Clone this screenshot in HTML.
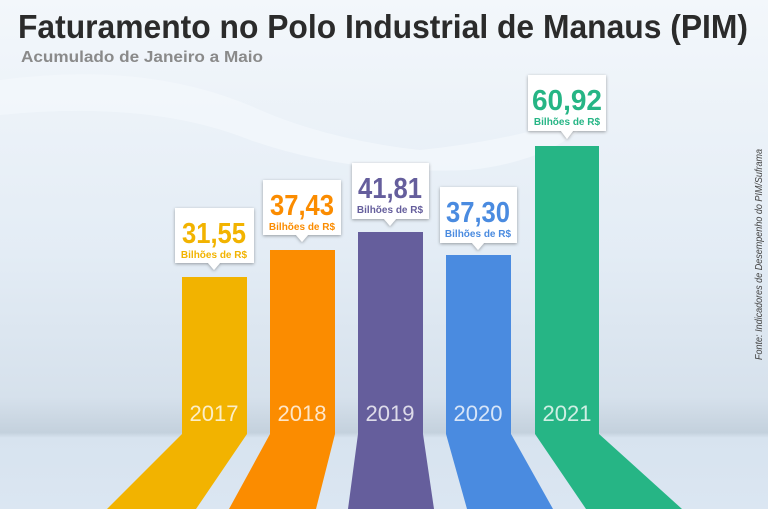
<!DOCTYPE html>
<html><head><meta charset="utf-8"><style>
html,body{margin:0;padding:0}
body{width:768px;height:509px;overflow:hidden}
</style></head><body>
<svg width="768" height="509" viewBox="0 0 768 509" xmlns="http://www.w3.org/2000/svg" font-family="Liberation Sans, sans-serif">
<defs>
<linearGradient id="bg" x1="0" y1="0" x2="0" y2="1">
<stop offset="0" stop-color="#f3f7fb"/>
<stop offset="0.5" stop-color="#e3ecf5"/>
<stop offset="0.78" stop-color="#d6e1ec"/>
<stop offset="0.85" stop-color="#c4d1dd"/>
<stop offset="0.86" stop-color="#d7e3ef"/>
<stop offset="1" stop-color="#dbe6f2"/>
</linearGradient>
<filter id="sh" x="-20%" y="-20%" width="140%" height="140%"><feDropShadow dx="0" dy="1" stdDeviation="1.5" flood-color="#000" flood-opacity="0.35"/></filter>
</defs>
<rect width="768" height="509" fill="url(#bg)"/>
<path d="M0 80 Q150 60 260 110 Q330 140 420 150 Q520 140 600 110 Q560 160 470 170 Q350 175 250 140 Q150 100 0 115Z" fill="#f4f8fc" opacity="0.7"/>
<text x="18" y="38" font-size="33" font-weight="bold" fill="#2b2b2b" textLength="730" lengthAdjust="spacingAndGlyphs">Faturamento no Polo Industrial de Manaus (PIM)</text>
<text x="21" y="62" font-size="16" font-weight="bold" fill="#8a8a8a" textLength="242" lengthAdjust="spacingAndGlyphs">Acumulado de Janeiro a Maio</text>
<text transform="translate(762,360) rotate(-90)" font-size="10" font-style="italic" fill="#444" textLength="211" lengthAdjust="spacingAndGlyphs">Fonte: Indicadores de Desempenho do PIM/Suframa</text>

<g>
<path d="M182 277 H247 V434 L196 509 H107 L182 434Z" fill="#f2b300"/>
<path d="M270 250 H335 V434 L316 509 H229 L270 434Z" fill="#fb8c00"/>
<path d="M358 232 H423 V434 L434 509 H348 L358 434Z" fill="#655e9c"/>
<path d="M446 255 H511 V434 L553 509 H467 L446 434Z" fill="#4a8be0"/>
<path d="M535 146 H599 V434 L682 509 H586 L535 434Z" fill="#26b585"/>
</g>
<g font-size="22" fill="#fff" fill-opacity="0.78" text-anchor="middle">
<text x="214" y="421">2017</text>
<text x="302" y="421">2018</text>
<text x="390" y="421">2019</text>
<text x="478" y="421">2020</text>
<text x="567" y="421">2021</text>
</g>
<g filter="url(#sh)" fill="#fff">
<path d="M175 208 H254 V263 H220 L214 270 L208 263 H175Z"/>
<path d="M263 180 H341 V235 H308 L302 242 L296 235 H263Z"/>
<path d="M352 163 H429 V219 H396 L390 226 L384 219 H352Z"/>
<path d="M440 187 H517 V243 H484 L478 250 L472 243 H440Z"/>
<path d="M528 75 H606 V131 H573 L567 139 L561 131 H528Z"/>
</g>
<g font-weight="bold" text-anchor="middle">
<text x="214" y="243" font-size="29" fill="#f2b300" textLength="64" lengthAdjust="spacingAndGlyphs">31,55</text>
<text x="214" y="258" font-size="10" fill="#f2b300">Bilhões de R$</text>
<text x="302" y="215" font-size="29" fill="#fb8c00" textLength="64" lengthAdjust="spacingAndGlyphs">37,43</text>
<text x="302" y="230" font-size="10" fill="#fb8c00">Bilhões de R$</text>
<text x="390" y="198" font-size="29" fill="#655e9c" textLength="64" lengthAdjust="spacingAndGlyphs">41,81</text>
<text x="390" y="213" font-size="10" fill="#655e9c">Bilhões de R$</text>
<text x="478" y="222" font-size="29" fill="#4a8be0" textLength="64" lengthAdjust="spacingAndGlyphs">37,30</text>
<text x="478" y="237" font-size="10" fill="#4a8be0">Bilhões de R$</text>
<text x="567" y="110" font-size="29" fill="#26b585" textLength="70" lengthAdjust="spacingAndGlyphs">60,92</text>
<text x="567" y="125" font-size="10" fill="#26b585">Bilhões de R$</text>
</g>
</svg>
</body></html>
